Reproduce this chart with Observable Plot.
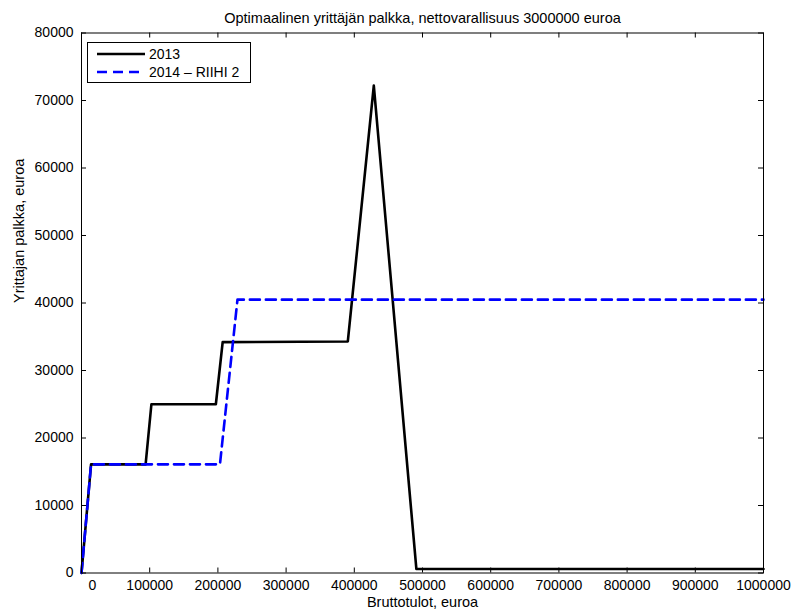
<!DOCTYPE html>
<html>
<head>
<meta charset="utf-8">
<script src="https://cdn.jsdelivr.net/npm/d3@7"></script>
<script src="https://cdn.jsdelivr.net/npm/@observablehq/plot@0.6"></script>
<style>
  html, body { margin: 0; padding: 0; background: #fff; }
  #wrap { position: relative; width: 794px; height: 612px; font-family: "Liberation Sans", Arial, sans-serif; }
  #legend { position: absolute; left: 87px; top: 42px; width: 162px; height: 39px; border: 1px solid #000; background: #fff; font-size: 14px; }
  #legend .row { position: absolute; left: 0; height: 18px; display: flex; align-items: center; }
  #legend svg { margin-left: 9px; margin-right: 4px; }
</style>
</head>
<body>
<div id="wrap"></div>
<script>
const titleText = "Optimaalinen yrittäjän palkka, nettovarallisuus 3000000 euroa";
const xLabel = "Bruttotulot, euroa";
const yLabel = "Yrittajan palkka, euroa";
const seriesNames = ["2013", "2014 – RIIHI 2"];

const x2013 = [0, 14000, 94000, 102500, 197000, 207000, 390500, 428600, 491000, 1000000];
const y2013 = [0, 16100, 16100, 25000, 25000, 34200, 34300, 72200, 600, 600];
const x2014 = [0, 14000, 203000, 228700, 1000000];
const y2014 = [0, 16100, 16100, 40500, 40500];

const xTicks = [0, 100000, 200000, 300000, 400000, 500000, 600000, 700000, 800000, 900000, 1000000];
const yTicks = [0, 10000, 20000, 30000, 40000, 50000, 60000, 70000, 80000];

const d2013 = x2013.map((x, i) => ({x, y: y2013[i]}));
const d2014 = x2014.map((x, i) => ({x, y: y2014[i]}));

const W = 794, H = 612;
const mL = 81, mR = 31, mT = 32.5, mB = 39.5;
const innerW = W - mL - mR, innerH = H - mT - mB;
const tick = 5;

const chart = Plot.plot({
  width: W,
  height: H,
  marginLeft: mL,
  marginRight: mR,
  marginTop: mT,
  marginBottom: mB,
  style: {fontFamily: "Liberation Sans, Arial, sans-serif", fontSize: "14px", background: "#fff", color: "#000"},
  x: {domain: [0, 1000000]},
  y: {domain: [0, 80000]},
  marks: [
    Plot.tickX(xTicks, {x: d => d, insetTop: innerH - tick, stroke: "#000", strokeWidth: 1}),
    Plot.tickX(xTicks, {x: d => d, insetBottom: innerH - tick, stroke: "#000", strokeWidth: 1}),
    Plot.tickY(yTicks, {y: d => d, insetRight: innerW - tick, stroke: "#000", strokeWidth: 1}),
    Plot.tickY(yTicks, {y: d => d, insetLeft: innerW - tick, stroke: "#000", strokeWidth: 1}),
    Plot.line(d2013, {x: "x", y: "y", stroke: "#000", strokeWidth: 2.6, strokeLinejoin: "round"}),
    Plot.line(d2014, {x: "x", y: "y", stroke: "#0000ff", strokeWidth: 2.6, strokeDasharray: "10,6", strokeLinejoin: "round"}),
    Plot.frame({stroke: "#000", strokeWidth: 1}),
    Plot.axisX(xTicks.slice(1), {tickSize: 0, tickPadding: 7, tickFormat: d => String(d), label: null, fontSize: 14}),
    Plot.axisX(xTicks.slice(0, 1), {tickSize: 0, tickPadding: 7, tickFormat: d => String(d), label: null, fontSize: 14, dx: 11}),
    Plot.axisY(yTicks, {tickSize: 0, tickPadding: 8, tickFormat: d => String(d), label: null, fontSize: 14}),
    Plot.text([titleText], {text: d => d, frameAnchor: "top", lineAnchor: "bottom", dy: -10, fontSize: 14.5, fill: "#000"}),
    Plot.text([xLabel], {text: d => d, frameAnchor: "bottom", lineAnchor: "bottom", dy: 34, fontSize: 14.5, fill: "#000"}),
    Plot.text([yLabel], {text: d => d, frameAnchor: "left", rotate: -90, dx: -62, fontSize: 14.5, fill: "#000"})
  ]
});

const wrap = document.getElementById("wrap");
wrap.appendChild(chart);

const legend = document.createElement("div");
legend.id = "legend";
const styles = [{stroke: "#000", dash: null}, {stroke: "#0000ff", dash: "10,6"}];
seriesNames.forEach((name, i) => {
  const row = document.createElement("div");
  row.className = "row";
  row.style.top = (i === 0 ? 2 : 20) + "px";
  const svg = d3.create("svg").attr("width", 48).attr("height", 10);
  const ln = svg.append("line").attr("x1", 0).attr("x2", 48).attr("y1", 5).attr("y2", 5)
    .attr("stroke", styles[i].stroke).attr("stroke-width", 2.6);
  if (styles[i].dash) ln.attr("stroke-dasharray", styles[i].dash);
  row.appendChild(svg.node());
  const span = document.createElement("span");
  span.textContent = name;
  row.appendChild(span);
  legend.appendChild(row);
});
wrap.appendChild(legend);
</script>
</body>
</html>
